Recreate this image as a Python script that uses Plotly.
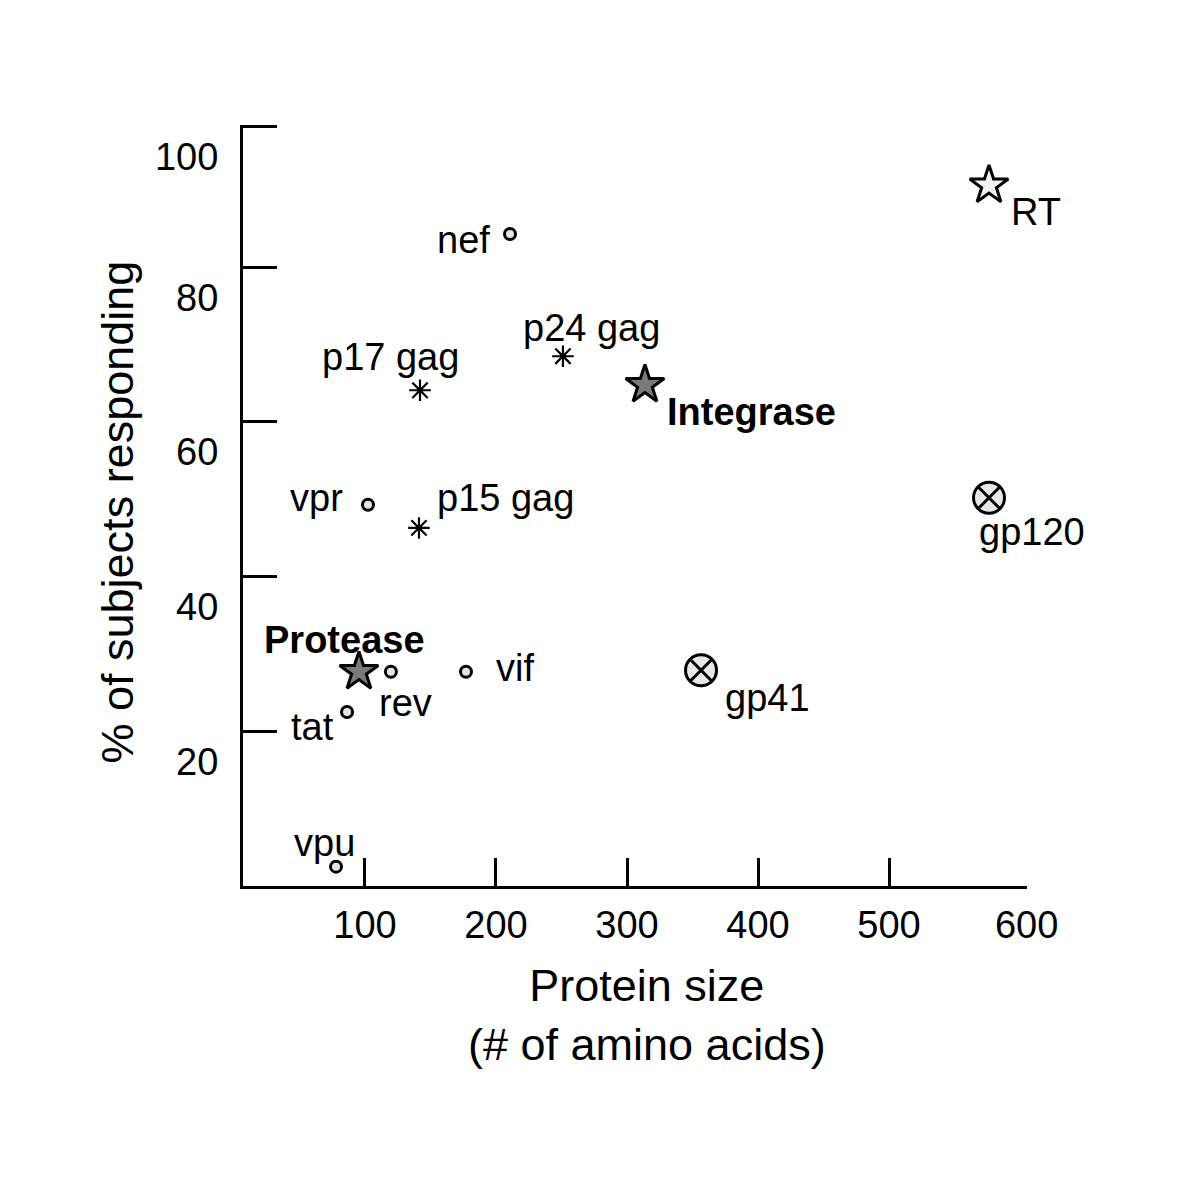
"""Antibody response vs HIV protein size, scatter with labelled proteins."""

import plotly.graph_objects as go

# data
proteins = ["nef", "p24 gag", "p17 gag", "Integrase", "RT", "vpr", "p15 gag",
            "gp120", "Protease", "rev", "vif", "gp41", "tat", "vpu"]
protein_size = [210.7, 251.1, 142.0, 313.7, 576.3, 102.3, 141.2,
                576.3, 95.4, 119.8, 177.1, 356.5, 86.3, 77.9]
pct_responding = [84.3, 68.5, 64.1, 64.8, 90.6, 49.3, 46.3,
                  50.2, 27.7, 27.7, 27.7, 27.9, 22.5, 2.5]
kind = ["small", "gag", "gag", "enzyme", "rt", "small", "gag",
        "env", "enzyme", "small", "small", "env", "small", "small"]

x_tickvals = [100, 200, 300, 400, 500, 605]
x_ticktext = ["100", "200", "300", "400", "500", "600"]
y_tickvals = [20, 40, 60, 80, 98.15]
y_ticktext = ["20", "40", "60", "80", "100"]

FONT = "Liberation Sans, Arial, sans-serif"

MARKER_STYLE = {
    "small": dict(symbol="circle", size=11, color="#e4e4e4",
                  line=dict(color="black", width=3)),
    "gag": dict(symbol="asterisk-open", size=18, color="black",
                line=dict(color="black", width=2.2)),
    "enzyme": dict(symbol="star", size=29, color="#7a7a7a",
                   line=dict(color="black", width=3)),
    "rt": dict(symbol="star", size=29, color="#f2f2f2",
               line=dict(color="black", width=3)),
    "env": dict(symbol="circle-x", size=31, color="#e8e8e8",
                line=dict(color="black", width=3)),
}

# label placement relative to marker: (xanchor, dx px, dy px down)
LABEL_POS = {
    "nef": ("right", -18, 6),
    "p24 gag": ("center", 29, -28),
    "p17 gag": ("center", -30, -33),
    "Integrase": ("left", 20, 27),
    "RT": ("left", 20, 27),
    "vpr": ("right", -23, -7),
    "p15 gag": ("left", 16, -30),
    "gp120": ("center", 43, 34),
    "Protease": ("center", -14, -32),
    "rev": ("center", 15, 31),
    "vif": ("left", 28, -4),
    "gp41": ("left", 22, 28),
    "tat": ("right", -11, 15),
    "vpu": ("center", -12, -24),
}
BOLD = {"Integrase", "Protease"}

fig = go.Figure()

for k, style in MARKER_STYLE.items():
    idx = [i for i, g in enumerate(kind) if g == k]
    fig.add_trace(go.Scatter(
        x=[protein_size[i] for i in idx],
        y=[pct_responding[i] for i in idx],
        mode="markers", marker=style, showlegend=False,
        hoverinfo="skip", cliponaxis=False,
    ))

for name, xv, yv in zip(proteins, protein_size, pct_responding):
    anchor, dx, dy = LABEL_POS[name]
    text = f"<b>{name}</b>" if name in BOLD else name
    fig.add_annotation(
        x=xv, y=yv, xref="x", yref="y", text=text, showarrow=False,
        xanchor=anchor, yanchor="middle", xshift=dx, yshift=-dy,
        font=dict(family=FONT, size=38, color="black"),
    )

# axis titles
fig.add_annotation(
    text="Protein size<br>(# of amino acids)",
    xref="paper", yref="paper", x=(645 - 241) / (1025 - 241), y=0,
    xanchor="center", yanchor="top", yshift=-72, showarrow=False,
    font=dict(family=FONT, size=45, color="black"),
)
fig.add_annotation(
    text="% of subjects responding",
    xref="paper", yref="paper", x=0, y=(886 - 512) / (886 - 125),
    xanchor="right", yanchor="middle", xshift=-99, textangle=-90,
    showarrow=False, font=dict(family=FONT, size=45, color="black"),
)

fig.update_layout(
    width=1200, height=1200,
    margin=dict(l=235, r=181, t=117, b=322),
    paper_bgcolor="white", plot_bgcolor="white",
    font=dict(family=FONT, size=38, color="black"),
    xaxis=dict(
        range=[6.9, 605.3], showgrid=False, zeroline=False,
        showline=True, linecolor="black", linewidth=3,
        ticks="inside", ticklen=28, tickwidth=3, tickcolor="black",
        tickvals=x_tickvals, ticktext=x_ticktext, automargin=False,
        ticklabelstandoff=3,
        tickfont=dict(family=FONT, size=38, color="black"),
    ),
    yaxis=dict(
        range=[0, 98.4], showgrid=False, zeroline=False,
        showline=True, linecolor="black", linewidth=3,
        ticks="inside", ticklen=34, tickwidth=3, tickcolor="black",
        tickvals=y_tickvals, ticktext=y_ticktext, automargin=False,
        ticklabelshift=30, ticklabelstandoff=14,
        tickfont=dict(family=FONT, size=38, color="black"),
    ),
)

fig.write_html("out.html")
